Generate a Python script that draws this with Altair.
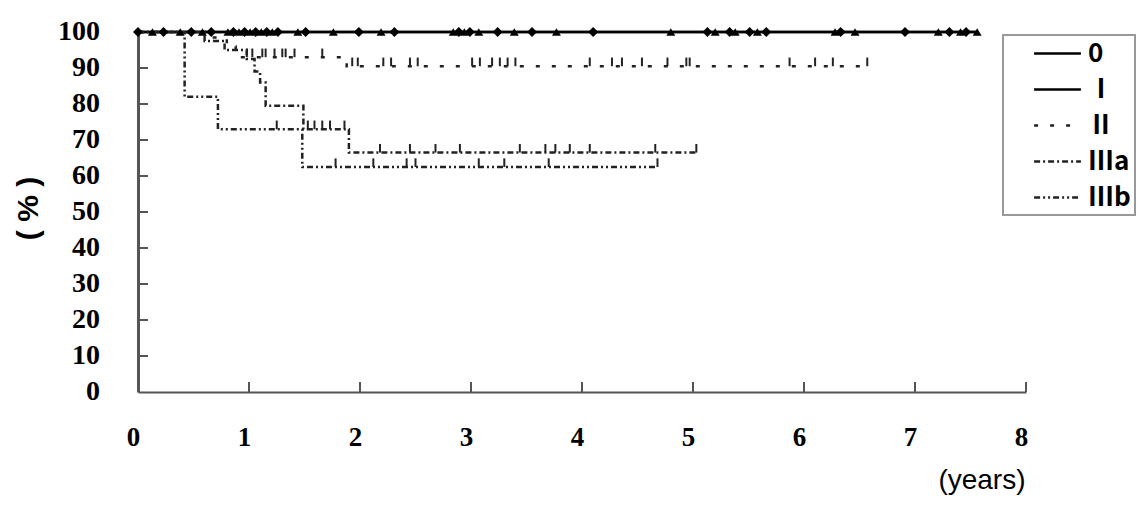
import altair as alt
import pandas as pd

stage_names = ["0", "Ⅰ", "Ⅱ", "Ⅲa", "Ⅲb"]

# Kaplan-Meier step curves: time (years) and survival (%)
t_0 = [0.0, 7.56]
s_0 = [100.0, 100.0]
t_I = [0.0, 7.56]
s_I = [100.0, 100.0]
t_II = [0.0, 0.60, 0.80, 0.88, 1.88, 6.58]
s_II = [100.0, 98.5, 96.0, 93.0, 90.5, 90.5]
t_IIIa = [0.0, 0.60, 0.78, 0.98, 1.05, 1.10, 1.15, 1.49, 1.90, 5.03]
s_IIIa = [100.0, 97.5, 95.0, 92.5, 89.0, 86.0, 79.5, 73.0, 66.5, 66.5]
t_IIIb = [0.0, 0.42, 0.72, 1.48, 4.68]
s_IIIb = [100.0, 82.0, 73.0, 62.5, 62.5]

# censored observations (years)
cens_0 = [0.00, 0.23, 0.48, 0.66, 0.86, 0.96, 1.06, 1.16, 1.26, 1.51, 1.99, 2.31,
          2.89, 2.99, 3.24, 3.55, 4.10, 5.13, 5.33, 5.51, 5.66, 6.33, 6.91, 7.31, 7.46]
cens_I = [0.13, 0.38, 0.58, 0.81, 0.91, 1.01, 1.11, 1.21, 1.44, 1.76, 2.19, 2.84,
          2.94, 3.07, 3.39, 3.77, 4.80, 5.20, 5.38, 5.58, 6.28, 6.46, 7.21, 7.41, 7.56]
cens_II = [0.98, 1.03, 1.12, 1.15, 1.23, 1.30, 1.33, 1.41, 1.66, 1.93, 1.98, 2.21,
           2.28, 2.45, 2.52, 3.01, 3.08, 3.19, 3.26, 3.33, 3.40, 4.07, 4.27, 4.36,
           4.54, 4.77, 4.94, 4.97, 5.87, 6.10, 6.26, 6.57]
cens_IIIa = [1.53, 1.59, 1.66, 1.73, 1.86, 2.18, 2.45, 2.68, 2.90, 3.44, 3.67,
             3.76, 3.89, 4.07, 4.66, 5.03]
cens_IIIb = [1.25, 1.78, 2.12, 2.42, 2.50, 3.07, 3.30, 3.70, 4.68]

x_ticks = [0, 1, 2, 3, 4, 5, 6, 7, 8]
y_ticks = [0, 10, 20, 30, 40, 50, 60, 70, 80, 90, 100]

curves = {
    "0": (t_0, s_0, cens_0),
    "Ⅰ": (t_I, s_I, cens_I),
    "Ⅱ": (t_II, s_II, cens_II),
    "Ⅲa": (t_IIIa, s_IIIa, cens_IIIa),
    "Ⅲb": (t_IIIb, s_IIIb, cens_IIIb),
}


def level(ts, ss, x):
    val = ss[0]
    for t, s in zip(ts, ss):
        if t <= x:
            val = s
    return val


line_rows, cens_rows = [], []
for name, (ts, ss, cs) in curves.items():
    for t, s in zip(ts, ss):
        line_rows.append({"stage": name, "t": t, "s": s})
    for c in cs:
        cens_rows.append({"stage": name, "t": c, "s": level(ts, ss, c)})
lines_df = pd.DataFrame(line_rows)
cens_df = pd.DataFrame(cens_rows)

xscale = alt.Scale(domain=[0, 8], nice=False)
yscale = alt.Scale(domain=[0, 100], nice=False)

xaxis = alt.Axis(values=x_ticks, format="d", ticks=False, grid=False, domainColor="#555",
                 domainWidth=2, labelFont="Liberation Serif", labelFontWeight="bold",
                 labelFontSize=27, labelColor="#000", labelPadding=32, labelFlush=False,
                 labelOffset=-5, labelOverlap=False,
                 title="(years)", titleFont="Liberation Sans",
                 titleFontWeight="normal", titleFontSize=28, titleColor="#000",
                 titleX=887, titleY=96, titleAlign="right", titleBaseline="alphabetic")
yaxis = alt.Axis(values=y_ticks, ticks=False, labels=False, grid=False, domainColor="#555",
                 domainWidth=3,
                 title="( % )", titleFont="Liberation Sans", titleFontWeight="bold",
                 titleFontSize=30, titleColor="#000", titleX=-110, titleY=176,
                 titleAngle=-90, titleAlign="center", titleBaseline="middle")

dash_range = [[1, 0], [1, 0], [4, 12], [6, 3, 2, 3], [6, 3, 2, 3, 2, 3]]
color_range = ["#000", "#000", "#222", "#222", "#222"]

legend = alt.Legend(orient="none", legendX=865, legendY=3, title=None,
                    symbolType="M-1.8,0L1.8,0", symbolSize=676, symbolStrokeWidth=2.5,
                    symbolOffset=36, labelOffset=16, labelFont="Noto Sans CJK JP",
                    labelFontWeight="bold", labelFontSize=26, labelColor="#000",
                    rowPadding=8, padding=4, strokeColor="#999", fillColor="#fff")

lines = alt.Chart(lines_df).mark_line(interpolate="step-after").encode(
    x=alt.X("t:Q", scale=xscale, axis=xaxis),
    y=alt.Y("s:Q", scale=yscale, axis=yaxis),
    color=alt.Color("stage:N", scale=alt.Scale(domain=stage_names, range=color_range),
                    legend=legend),
    strokeDash=alt.StrokeDash("stage:N", scale=alt.Scale(domain=stage_names, range=dash_range),
                              legend=legend),
    strokeWidth=alt.StrokeWidth("stage:N", scale=alt.Scale(domain=stage_names,
                                range=[2.5, 2.5, 2, 2, 2]), legend=None),
    order="t:Q",
)

cens_ticks = alt.Chart(cens_df).transform_filter(
    alt.FieldOneOfPredicate(field="stage", oneOf=["Ⅱ", "Ⅲa", "Ⅲb"])
).transform_calculate(top="datum.s + 2.4").mark_rule(strokeWidth=2, color="#222").encode(
    x="t:Q", y="s:Q", y2="top:Q"
)

pts0 = alt.Chart(cens_df).transform_filter(alt.datum.stage == "0").mark_point(
    shape="diamond", filled=True, size=100, color="#000", opacity=1).encode(x="t:Q", y="s:Q")
ptsI = alt.Chart(cens_df).transform_filter(alt.datum.stage == "Ⅰ").mark_point(
    shape="triangle-up", filled=True, size=80, color="#000", opacity=1).encode(x="t:Q", y="s:Q")

ytick_df = pd.DataFrame({"v": y_ticks})
xtick_df = pd.DataFrame({"v": x_ticks[1:]})
ytick_layer = alt.Chart(ytick_df).transform_filter(
    "datum.v > 0 && datum.v < 100"
).transform_calculate(x0="0", x1="0.09").mark_rule(
    color="#555", strokeWidth=2).encode(x="x0:Q", x2="x1:Q", y="v:Q")
xtick_layer = alt.Chart(xtick_df).transform_calculate(y0="0", y1="2.8").mark_rule(
    color="#555", strokeWidth=2).encode(y="y0:Q", y2="y1:Q", x="v:Q")

# y-axis tick labels drawn through the y scale
ylabel_layer = alt.Chart(ytick_df).transform_calculate(x0="0").mark_text(
    align="right", baseline="middle", dx=-38, font="Liberation Serif", fontWeight="bold",
    fontSize=28, color="#000").encode(x="x0:Q", y="v:Q", text="v:Q")

chart = alt.layer(lines, ytick_layer, xtick_layer, cens_ticks, ptsI, pts0,
                  ylabel_layer).properties(
    width=888, height=360,
    autosize=alt.AutoSizeParams(type="none"),
    padding={"left": 130, "top": 24, "right": 110, "bottom": 106},
).configure_view(strokeWidth=0).configure_legend(strokeWidth=2)

chart.save("out.html", embed_options={"renderer": "svg", "actions": False})
